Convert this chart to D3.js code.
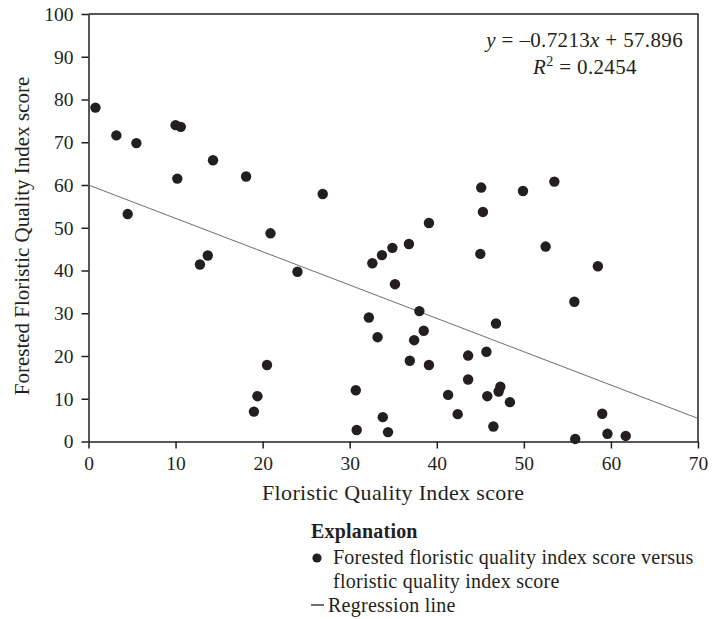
<!DOCTYPE html>
<html>
<head>
<meta charset="utf-8">
<script src="https://cdn.jsdelivr.net/npm/d3@7"></script>
<style>
  body { margin: 0; background: #fff; }
  svg text { font-family: "Liberation Serif", "DejaVu Serif", serif; fill: #231f20; }
  .axis path, .axis line { stroke: #231f20; stroke-width: 1.5; }
  .axis text { font-size: 19.5px; }
</style>
</head>
<body>
<div id="chart"></div>
<script>
// floristic quality index score (x) vs forested FQI score (y)
var fqiScore = [0.8, 3.2, 5.5, 10.0, 10.6, 14.3, 10.2, 18.1, 26.9, 4.5,
    20.9, 13.7, 12.8, 24.0, 32.6, 33.7, 34.9, 36.8, 39.1, 45.1,
    49.9, 53.5, 45.3, 45.0, 52.5, 58.5, 35.2, 55.8, 38.0, 32.2,
    46.8, 33.2, 38.5, 37.4, 43.6, 45.7, 36.9, 39.1, 20.5, 19.4,
    19.0, 30.7, 30.8, 33.8, 34.4, 43.6, 41.3, 45.8, 42.4, 46.5,
    47.3, 47.1, 48.4, 59.0, 59.6, 61.7, 55.9];
var forestedScore = [78.1, 71.6, 69.8, 74.0, 73.6, 65.8, 61.5, 62.0, 57.9, 53.2,
    48.7, 43.5, 41.4, 39.7, 41.7, 43.6, 45.3, 46.2, 51.1, 59.4,
    58.6, 60.8, 53.7, 43.9, 45.6, 41.0, 36.8, 32.7, 30.5, 29.0,
    27.6, 24.4, 25.9, 23.7, 20.1, 21.0, 18.9, 17.9, 17.9, 10.6,
    7.0, 12.0, 2.7, 5.7, 2.2, 14.5, 10.9, 10.6, 6.4, 3.5,
    12.8, 11.7, 9.2, 6.5, 1.8, 1.3, 0.6];

// regression line as printed (end points at x = 0 and x = 70)
var lineX = [0, 70];
var lineY = [60.0, 5.4];

var xTicks = [0, 10, 20, 30, 40, 50, 60, 70];
var yTicks = [0, 10, 20, 30, 40, 50, 60, 70, 80, 90, 100];

var W = 718, H = 619;
var margin = {top: 14, right: 20, bottom: 177.5, left: 88.5},
    width = W - margin.left - margin.right,
    height = H - margin.top - margin.bottom;

var x = d3.scaleLinear().domain([0, 70]).range([0, width]);
var y = d3.scaleLinear().domain([0, 100]).range([height, 0]);

var svg = d3.select("#chart").append("svg")
    .attr("width", W)
    .attr("height", H);

var g = svg.append("g")
    .attr("transform", "translate(" + margin.left + "," + margin.top + ")");

// top and right border of the plot box
g.append("path")
    .attr("d", "M0,0H" + width + "V" + height)
    .attr("fill", "none")
    .attr("stroke", "#231f20")
    .attr("stroke-width", 1.5);

g.append("g")
    .attr("class", "axis")
    .attr("transform", "translate(0," + height + ")")
    .call(d3.axisBottom(x).tickValues(xTicks).tickSize(7).tickSizeOuter(0).tickPadding(8).tickFormat(d3.format("d")));

g.append("g")
    .attr("class", "axis")
    .call(d3.axisLeft(y).tickValues(yTicks).tickSize(7).tickSizeOuter(0).tickPadding(8).tickFormat(d3.format("d")));

// regression line
var pts = lineX.map(function(d, i) { return [d, lineY[i]]; });
g.append("path")
    .datum(pts)
    .attr("fill", "none")
    .attr("stroke", "#6d6e71")
    .attr("stroke-width", 1)
    .attr("d", d3.line().x(function(d) { return x(d[0]); }).y(function(d) { return y(d[1]); }));

// points
g.selectAll(".dot")
    .data(fqiScore)
    .enter().append("circle")
    .attr("class", "dot")
    .attr("cx", function(d) { return x(d); })
    .attr("cy", function(d, i) { return y(forestedScore[i]); })
    .attr("r", 5.2)
    .attr("fill", "#231f20");

// equation
var eq = g.append("text")
    .attr("x", width - 15)
    .attr("y", 33)
    .attr("text-anchor", "end")
    .style("font-size", "21px")
    .style("letter-spacing", "0.35px");
eq.append("tspan").style("font-style", "italic").text("y");
eq.append("tspan").text(" = \u20130.7213");
eq.append("tspan").style("font-style", "italic").text("x");
eq.append("tspan").text(" + 57.896");

var r2 = g.append("text")
    .attr("x", width - 113)
    .attr("y", 60)
    .attr("text-anchor", "middle")
    .style("font-size", "21px")
    .style("letter-spacing", "0.35px");
r2.append("tspan").style("font-style", "italic").text("R");
r2.append("tspan").attr("dy", -8).style("font-size", "14px").text("2");
r2.append("tspan").attr("dy", 8).text(" = 0.2454");

// axis titles
svg.append("text")
    .attr("x", margin.left + width / 2 - 0)
    .attr("y", 500)
    .attr("text-anchor", "middle")
    .style("font-size", "22px")
    .style("letter-spacing", "0.35px")
    .text("Floristic Quality Index score");

svg.append("text")
    .attr("transform", "translate(29,236) rotate(-90)")
    .attr("text-anchor", "middle")
    .style("font-size", "21px")
    .text("Forested Floristic Quality Index score");

// explanation
var leg = svg.append("g").attr("transform", "translate(311,0)")
    .style("font-size", "20px");
leg.append("text")
    .attr("x", 0)
    .attr("y", 538)
    .style("font-weight", "bold")
    .style("letter-spacing", "0.2px")
    .text("Explanation");
leg.append("circle")
    .attr("cx", 6)
    .attr("cy", 558)
    .attr("r", 4.6)
    .attr("fill", "#231f20");
leg.append("text")
    .attr("x", 22)
    .attr("y", 564)
    .style("letter-spacing", "0.25px")
    .text("Forested floristic quality index score versus");
leg.append("text")
    .attr("x", 22)
    .attr("y", 588)
    .style("letter-spacing", "0.25px")
    .text("floristic quality index score");
leg.append("line")
    .attr("x1", 0).attr("x2", 13)
    .attr("y1", 605).attr("y2", 605)
    .attr("stroke", "#231f20")
    .attr("stroke-width", 1.3);
leg.append("text")
    .attr("x", 17)
    .attr("y", 612)
    .style("letter-spacing", "0.25px")
    .text("Regression line");
</script>
</body>
</html>
